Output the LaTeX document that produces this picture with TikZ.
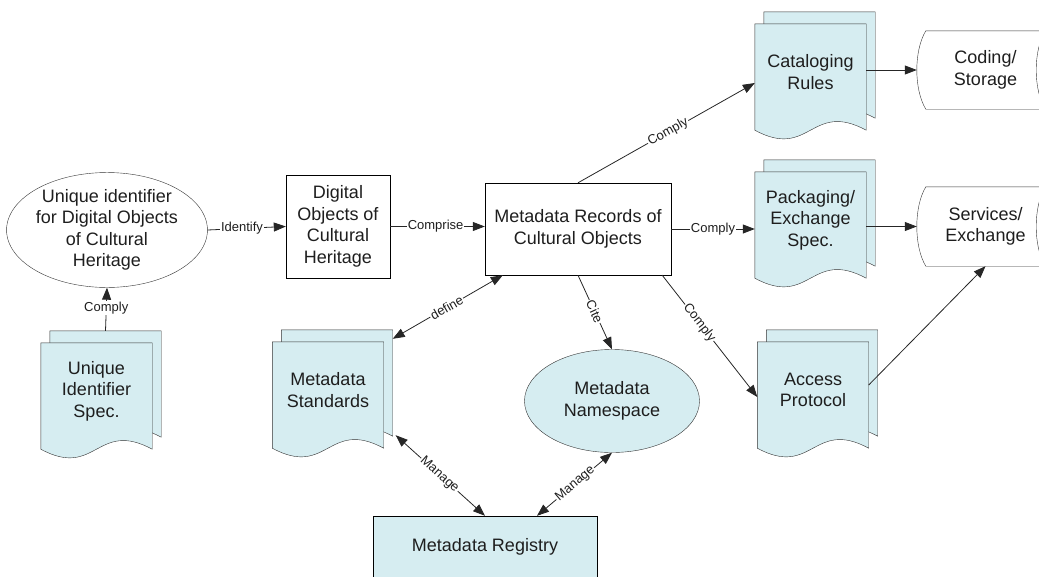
\documentclass[tikz,border=0pt]{standalone}
\usepackage{fontspec}
\setmainfont{Liberation Sans}
\usetikzlibrary{arrows.meta,shapes.geometric,backgrounds}

\definecolor{docblue}{RGB}{214,237,241}
\definecolor{inkgray}{RGB}{30,30,30}

\tikzset{
  txt/.style={align=center, inner sep=0pt, text=inkgray, font=\fontsize{18}{21.5}\selectfont},
  box/.style={txt, draw=black, fill=white},
  ell/.style={txt, ellipse, draw=black!80},
  doc/.style={txt, minimum width=111pt, minimum height=96pt},
  store/.style={txt, minimum width=119pt},
  sheet/.style={draw=black!80, fill=docblue},
  link/.style={draw=black!85, line width=0.8pt, -{Triangle[length=12pt,width=9pt]}},
  twolink/.style={link, {Triangle[length=12pt,width=9pt]}-{Triangle[length=12pt,width=9pt]}},
  lab/.style={font=\fontsize{13}{14}\selectfont, fill=white, inner sep=1pt, text=inkgray}
}

% two stacked sheets with a wavy foot behind a doc node
\newcommand{\docsheets}[1]{%
  \filldraw[sheet] ([shift={(9,-12)}]#1.north west) -- ([shift={(9,-12)}]#1.north east)
    -- ([shift={(9,-2)}]#1.south east) .. controls +(-55.5,-30) and +(55.5,30) ..
    ([shift={(9,-2)}]#1.south west) -- cycle;
  \filldraw[sheet] (#1.north west) -- (#1.north east)
    -- ([shift={(0,10)}]#1.south east) .. controls +(-55.5,-30) and +(55.5,30) ..
    ([shift={(0,10)}]#1.south west) -- cycle;}

% stored data outline
\newcommand{\storedshape}[1]{%
  \filldraw[draw=black!80, fill=white] (#1.north west) -- (#1.north east)
    .. controls +(-12,20) and +(-12,-20) .. (#1.south east)
    -- (#1.south west)
    .. controls +(-12,-20) and +(-12,20) .. (#1.north west) -- cycle;}

\begin{document}
\begin{tikzpicture}[x=1pt, y=-1pt]
  \useasboundingbox (0,0) rectangle (1039,576);

  \node[ell, minimum width=194pt, minimum height=102pt] (uid) at (107,230)
    {Unique identifier\\for Digital Objects\\of Cultural\\Heritage};
  \node[doc] (uidspec) at (96.5,391) {Unique\\Identifier\\Spec.};
  \node[box, minimum width=104pt, minimum height=103pt] (digobj) at (338,226.5)
    {Digital\\Objects of\\Cultural\\Heritage};
  \node[box, minimum width=186pt, minimum height=92pt] (mdrec) at (578,229)
    {Metadata Records of\\Cultural Objects};

  \node[doc] (catrules) at (810.5,72) {Cataloging\\Rules};
  \node[doc] (packspec) at (810.5,220) {Packaging/\\Exchange\\Spec.};
  \node[doc] (access) at (813,390) {Access\\Protocol};
  \node[doc] (mdstd) at (328,390) {Metadata\\Standards};

  \node[store, minimum height=78pt] (coding) at (985.5,70) {Coding/\\Storage};
  \node[store, minimum height=79pt] (services) at (985.5,226.5) {Services/\\Exchange};

  \node[ell, fill=docblue, minimum width=175pt, minimum height=103pt] (mdns) at (612,401)
    {Metadata\\Namespace};
  \node[box, fill=docblue, minimum width=224pt, minimum height=62pt] (mdreg) at (485,547)
    {Metadata Registry};

  \begin{pgfonlayer}{background}
    \docsheets{uidspec}
    \docsheets{catrules}
    \docsheets{packspec}
    \docsheets{access}
    \docsheets{mdstd}
    \storedshape{coding}
    \storedshape{services}
  \end{pgfonlayer}

  \draw[link] ([shift={(9,-12)}]uidspec.north) -- node[lab,pos=.52] {Comply} (uid.south);
  \draw[link] (uid.east) -- node[lab,pos=.44] {Identify} (digobj.west);
  \draw[link] (digobj.east) -- node[lab,pos=.48] {Comprise} (mdrec.west |- digobj.east);
  \draw[link] (mdrec.north) -- node[lab,sloped,pos=.51] {Comply} ([shift={(0,11)}]catrules.west);
  \draw[link] (mdrec.east) -- node[lab,pos=.5] {Comply} (mdrec.east -| packspec.west);
  \draw[link] ([shift={(-9,0)}]mdrec.south east) -- node[lab,sloped,pos=.39] {Comply} ([shift={(0,7)}]access.west);
  \draw[link] (mdrec.south) -- node[lab,sloped,pos=.49] {Cite} (mdns.north);
  \draw[twolink] ([shift={(9,-3)}]mdstd.north east) -- node[lab,sloped,pos=.49] {define} ([shift={(18,0)}]mdrec.south west);
  \draw[twolink] ([shift={(12,-3)}]mdstd.south east) -- node[lab,sloped,pos=.49] {Manage} (mdreg.north);
  \draw[twolink] (mdns.south) -- node[lab,sloped,pos=.49] {Manage} ([shift={(52,0)}]mdreg.north);

  \draw[link] (catrules.east |- coding.west) -- ([shift={(-9,0)}]coding.west);
  \draw[link] (packspec.east |- services.west) -- ([shift={(-9,0)}]services.west);
  \draw[link] ([shift={(0,-5)}]access.east) -- (services.south);
\end{tikzpicture}
\end{document}
